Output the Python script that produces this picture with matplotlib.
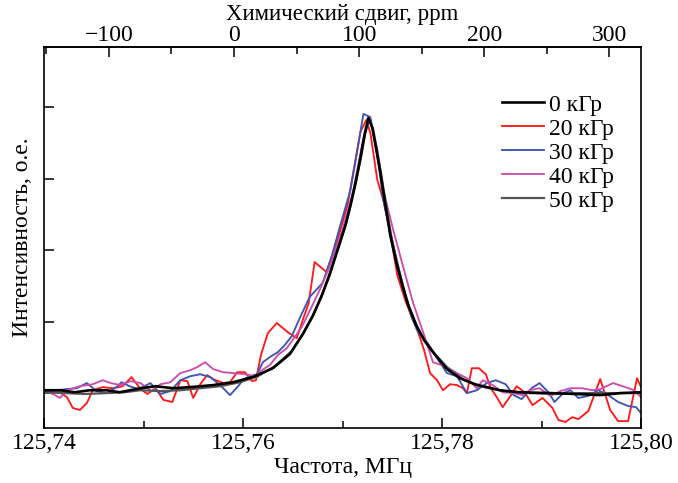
import numpy as np
import matplotlib
matplotlib.use("Agg")
from matplotlib import pyplot as plt
from matplotlib.ticker import MultipleLocator, FuncFormatter

# NMR line, 125.74 - 125.80 MHz, intensity in relative units (peak ~ 100)
freq_0 = [125.7400, 125.7416, 125.7431, 125.7446, 125.7463, 125.7476, 125.7497, 125.7512,
          125.7530, 125.7547, 125.7570, 125.7590, 125.7610, 125.7630, 125.7647, 125.7660,
          125.7670, 125.7679, 125.7687, 125.7695, 125.7703, 125.7708, 125.7713, 125.7718,
          125.7722, 125.7726, 125.7730, 125.7734, 125.7738, 125.7742, 125.7748, 125.7754,
          125.7760, 125.7766, 125.7774, 125.7782, 125.7791, 125.7805, 125.7818, 125.7833,
          125.7858, 125.7878, 125.7909, 125.7934, 125.7959, 125.7979, 125.8000]
int_0 = [1.0, 1.0, 0.3, 1.0, 1.0, 0.3, 1.7, 2.4, 1.7, 2.1, 2.8, 3.8, 5.6, 8.7, 13.6, 20.6,
         26.9, 33.9, 41.3, 50.0, 58.7, 65.7, 73.4, 82.2, 90.2, 96.2, 92.7, 85.0, 77.3, 68.2,
         55.2, 45.8, 37.8, 30.8, 23.8, 18.5, 14.3, 8.4, 5.2, 3.1, 1.0, 0.3, 0.0, -0.3, -0.7,
         0.0, 0.3]

freq_20 = [125.7400, 125.7413, 125.7423, 125.7429, 125.7436, 125.7443, 125.7449, 125.7459,
           125.7469, 125.7479, 125.7488, 125.7497, 125.7504, 125.7512, 125.7520, 125.7529,
           125.7537, 125.7544, 125.7550, 125.7557, 125.7564, 125.7570, 125.7580, 125.7587,
           125.7594, 125.7602, 125.7609, 125.7613, 125.7618, 125.7625, 125.7634, 125.7645,
           125.7654, 125.7660, 125.7666, 125.7672, 125.7684, 125.7697, 125.7705, 125.7713,
           125.7718, 125.7724, 125.7728, 125.7735, 125.7741, 125.7748, 125.7755, 125.7763,
           125.7770, 125.7776, 125.7782, 125.7788, 125.7795, 125.7801, 125.7808, 125.7815,
           125.7821, 125.7825, 125.7830, 125.7837, 125.7844, 125.7849, 125.7855, 125.7861,
           125.7868, 125.7875, 125.7883, 125.7891, 125.7901, 125.7911, 125.7917, 125.7924,
           125.7931, 125.7937, 125.7947, 125.7959, 125.7969, 125.7977, 125.7987, 125.7996,
           125.8000]
int_20 = [0.7, 1.0, -1.4, -5.2, -5.9, -3.5, 1.0, 2.1, 1.7, 2.4, 5.6, 1.4, -0.3, 1.7, -2.4,
          -3.1, 4.5, 4.2, -1.7, 3.1, 6.3, 4.9, 3.5, 3.8, 7.3, 7.3, 4.2, 4.5, 13.3, 21.0,
          24.5, 21.3, 19.2, 25.5, 31.5, 45.8, 42.3, 55.9, 65.7, 81.5, 91.3, 95.5, 90.9,
          74.5, 67.5, 55.9, 41.3, 32.5, 26.2, 21.3, 15.0, 7.0, 4.5, 1.0, 3.1, 2.8, 1.7, 0.0,
          8.7, 8.7, 6.6, 1.7, -1.4, -4.9, -1.4, 2.4, 0.3, -4.2, -1.7, -5.2, -9.4, -10.1,
          -8.4, -9.1, -6.3, 4.9, -5.9, -9.8, -9.8, 5.2, 2.1]

freq_30 = [125.7400, 125.7413, 125.7423, 125.7433, 125.7443, 125.7453, 125.7463, 125.7473,
           125.7478, 125.7486, 125.7495, 125.7507, 125.7517, 125.7527, 125.7537, 125.7547,
           125.7557, 125.7567, 125.7577, 125.7587, 125.7595, 125.7601, 125.7607, 125.7614,
           125.7620, 125.7627, 125.7635, 125.7642, 125.7649, 125.7657, 125.7667, 125.7680,
           125.7689, 125.7697, 125.7708, 125.7715, 125.7721, 125.7728, 125.7735, 125.7741,
           125.7751, 125.7761, 125.7769, 125.7776, 125.7785, 125.7795, 125.7805, 125.7815,
           125.7825, 125.7835, 125.7845, 125.7854, 125.7864, 125.7872, 125.7880, 125.7890,
           125.7898, 125.7907, 125.7913, 125.7922, 125.7929, 125.7937, 125.7947, 125.7957,
           125.7967, 125.7977, 125.7987, 125.7995, 125.8000]
int_30 = [0.3, 1.0, 1.4, 1.7, 3.5, 0.7, 0.0, 2.1, 3.8, 2.4, 1.4, 3.5, -0.3, 0.7, 4.5, 5.9,
          6.6, 5.6, 2.8, -0.7, 2.4, 4.9, 5.9, 6.6, 10.8, 12.6, 14.3, 16.8, 19.9, 26.2, 33.6,
          38.5, 47.6, 57.7, 71.0, 85.0, 97.6, 96.5, 83.2, 67.5, 51.7, 37.4, 26.9, 21.3,
          17.8, 12.2, 7.0, 5.9, 0.0, 1.0, 3.5, 4.5, 3.1, -0.7, -2.1, 1.7, 3.5, 0.3, -3.1,
          0.0, 1.0, -1.7, -1.0, 1.0, -0.7, -3.1, -4.5, -4.9, -7.0]

freq_40 = [125.7400, 125.7409, 125.7416, 125.7423, 125.7436, 125.7449, 125.7459, 125.7467,
           125.7477, 125.7487, 125.7497, 125.7508, 125.7517, 125.7527, 125.7537, 125.7547,
           125.7554, 125.7562, 125.7570, 125.7580, 125.7590, 125.7602, 125.7612, 125.7619,
           125.7627, 125.7635, 125.7644, 125.7652, 125.7659, 125.7667, 125.7677, 125.7687,
           125.7700, 125.7711, 125.7720, 125.7727, 125.7735, 125.7741, 125.7751, 125.7761,
           125.7771, 125.7781, 125.7791, 125.7805, 125.7815, 125.7825, 125.7835, 125.7841,
           125.7851, 125.7861, 125.7871, 125.7881, 125.7888, 125.7898, 125.7909, 125.7919,
           125.7929, 125.7941, 125.7951, 125.7959, 125.7972, 125.7984, 125.7993, 125.8000]
int_40 = [0.7, -0.3, -1.7, 1.0, 2.4, 3.1, 4.5, 3.5, 2.8, 4.2, 3.5, 0.7, 3.1, 3.8, 7.0, 8.0,
          9.1, 10.8, 8.4, 7.3, 7.0, 6.6, 5.9, 8.0, 9.8, 13.3, 15.7, 19.6, 23.1, 28.7, 36.0,
          44.1, 57.0, 71.0, 87.4, 96.5, 85.0, 71.0, 57.0, 44.1, 31.5, 21.3, 10.8, 9.1, 7.0,
          5.2, 1.7, 4.5, 2.8, 0.3, 0.0, -0.7, 1.0, 1.7, -1.0, 0.7, 1.7, 1.7, 1.0, 1.4, 3.5,
          2.1, 1.0, -1.4]

freq_50 = [125.7400, 125.7421, 125.7441, 125.7463, 125.7481, 125.7497, 125.7517, 125.7537,
           125.7557, 125.7577, 125.7597, 125.7615, 125.7632, 125.7649, 125.7661, 125.7671,
           125.7680, 125.7688, 125.7696, 125.7704, 125.7709, 125.7714, 125.7719, 125.7723,
           125.7727, 125.7731, 125.7735, 125.7739, 125.7743, 125.7749, 125.7755, 125.7761,
           125.7767, 125.7775, 125.7783, 125.7793, 125.7808, 125.7823, 125.7838, 125.7863,
           125.7888, 125.7914, 125.7939, 125.7969, 125.8000]
int_50 = [0.3, 0.0, -0.3, 0.0, 0.3, 1.0, 0.7, 1.0, 1.7, 2.4, 3.8, 5.9, 9.4, 14.7, 21.0,
          27.6, 35.0, 42.7, 51.0, 59.8, 66.8, 74.5, 83.2, 90.9, 95.8, 92.0, 84.3, 76.2, 67.5,
          54.9, 45.1, 37.1, 30.1, 23.1, 18.2, 13.6, 8.0, 4.5, 2.4, 0.7, 0.0, -0.3, 0.0, 0.0,
          0.0]

labels = ["0 кГр", "20 кГр", "30 кГр", "40 кГр", "50 кГр"]
colors = ["#000000", "#ff1a1a", "#3f55b4", "#cc4eae", "#555555"]
widths = [1.9, 1.35, 1.35, 1.35, 1.6]

F_REF = 125.7591  # MHz, 0 ppm
ppm_ticks = [-100, 0, 100, 200, 300]


def to_ppm(f):
    return (f - F_REF) / F_REF * 1e6


def to_mhz(p):
    return F_REF * (1 + p * 1e-6)


plt.rcParams['font.family'] = ['Liberation Serif', 'DejaVu Serif']

fig = plt.figure(figsize=(6.78, 4.83), dpi=100)
ax = fig.add_axes([44 / 678, 1 - 428 / 483, 597 / 678, 381 / 483])

series = [(freq_0, int_0), (freq_20, int_20), (freq_30, int_30),
          (freq_40, int_40), (freq_50, int_50)]
# draw coloured ones first, black/grey on top like in the original
order = [1, 2, 3, 4, 0]
lines = {}
for i in order:
    f, y = series[i]
    ln, = ax.plot(f, y, color=colors[i], lw=widths[i], label=labels[i],
                  solid_joinstyle='round')
    lines[i] = ln

ax.set_xlim(125.74, 125.80)
ax.set_ylim(-12.2, 121.0)

ax.xaxis.set_major_locator(MultipleLocator(0.02))
ax.xaxis.set_minor_locator(MultipleLocator(0.01))
ax.xaxis.set_major_formatter(FuncFormatter(lambda v, pos: f"{v:.2f}".replace('.', ',')))
ax.yaxis.set_major_locator(MultipleLocator(25))
ax.set_yticklabels([])
ax.tick_params(axis='both', which='both', direction='in', labelsize=17, width=1.1)
ax.tick_params(axis='both', which='major', length=7)
ax.tick_params(axis='both', which='minor', length=5)
ax.tick_params(axis='x', pad=3.5)
for s in ax.spines.values():
    s.set_linewidth(1.2)

sec = ax.secondary_xaxis('top', functions=(to_ppm, to_mhz))
sec.set_xticks(ppm_ticks)
sec.xaxis.set_minor_locator(MultipleLocator(50))
sec.tick_params(axis='x', which='both', direction='in', labelsize=17, width=1.1, pad=1.0)
sec.tick_params(axis='x', which='major', length=7)
sec.tick_params(axis='x', which='minor', length=5)
sec.spines['top'].set_linewidth(1.2)
sec.set_xlabel("Химический сдвиг, ppm", fontsize=16.5, labelpad=3.5)

ax.set_xlabel("Частота, МГц", fontsize=17, labelpad=2.5)
ax.set_ylabel("Интенсивность, о.е.", fontsize=17, labelpad=4.5)

ax.legend([lines[i] for i in range(5)], labels, loc='upper right',
          bbox_to_anchor=(0.982, 0.92), frameon=False, fontsize=17,
          handlelength=1.8, handletextpad=0.2, labelspacing=0.105, borderaxespad=0.3)

fig.savefig("out.png", dpi=100)
